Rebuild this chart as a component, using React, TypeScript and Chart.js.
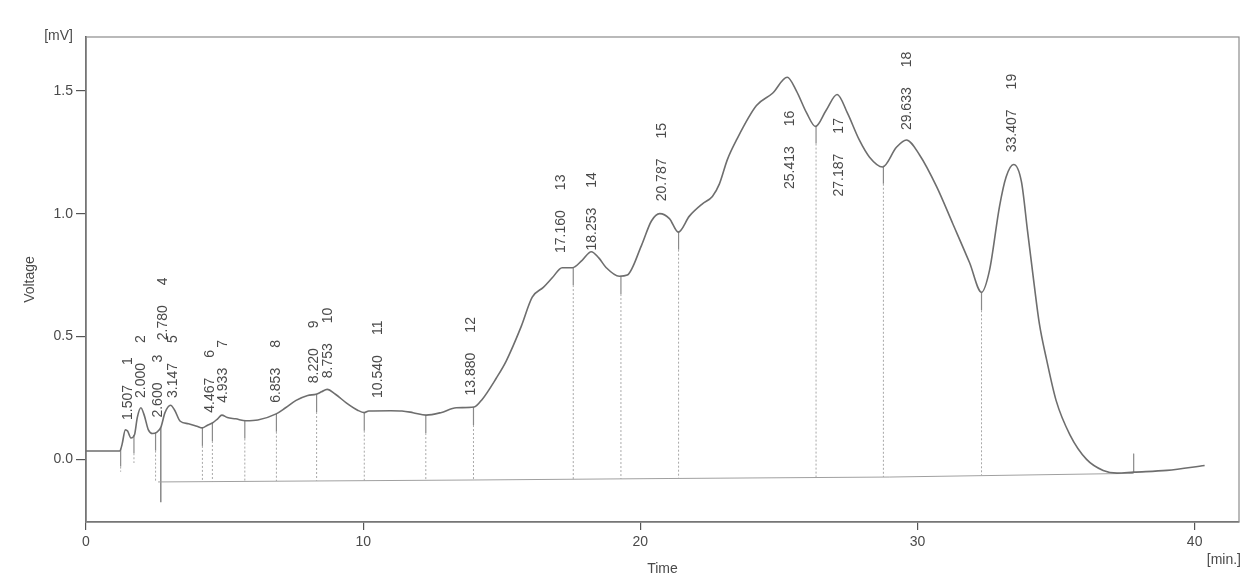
import React, { useEffect, useRef } from "react";
import { Chart, registerables } from "chart.js";

Chart.register(...registerables);

// ---- data ----
const traceTimes = [
  0, 1.22, 1.3, 1.42, 1.5, 1.62, 1.75, 1.85, 1.98, 2.1, 2.25, 2.4, 2.55, 2.7, 2.85, 3.05, 3.2, 3.4, 3.7, 4.0,
  4.2, 4.4, 4.56, 4.75, 4.9, 5.1, 5.4, 5.77, 6.2, 6.86, 7.2, 7.58, 8.0, 8.3, 8.5, 8.7, 9.0, 9.39, 9.8, 10.04,
  10.2, 11.0, 11.4, 11.8, 12.27, 12.8, 13.36, 14.0, 14.3, 14.8, 15.16, 15.7, 16.1, 16.5, 16.83, 17.18, 17.55,
  17.9, 18.23, 18.5, 18.77, 19.24, 19.53, 20.04, 20.4, 20.7, 21.05, 21.37, 21.77, 22.24, 22.6, 22.85, 23.14,
  23.47, 24.19, 24.77, 25.3, 25.63, 26.0, 26.32, 26.7, 27.1, 27.47, 27.9, 28.27, 28.74, 29.24, 29.6, 30.07,
  30.69, 31.27, 31.88, 32.31, 32.6, 32.96, 33.2, 33.47, 33.75, 33.97, 34.2, 34.4, 34.65, 35.0, 35.5, 36.1,
  36.7, 37.2, 37.8, 39.0, 40.36,
];
const traceValues = [
  0.034, 0.034, 0.06, 0.12, 0.115, 0.087, 0.1, 0.17, 0.21, 0.18, 0.12, 0.105, 0.11, 0.13, 0.19, 0.22, 0.2, 0.155, 0.145, 0.135,
  0.128, 0.14, 0.148, 0.165, 0.18, 0.17, 0.165, 0.157, 0.16, 0.185, 0.21, 0.24, 0.26, 0.265, 0.275, 0.285, 0.265, 0.23, 0.2, 0.19,
  0.197, 0.198, 0.197, 0.19, 0.18, 0.19, 0.21, 0.213, 0.245, 0.33, 0.4, 0.54, 0.66, 0.7, 0.74, 0.78, 0.78,
  0.81, 0.845, 0.82, 0.78, 0.745, 0.75, 0.87, 0.97, 1.0, 0.98, 0.925, 0.99, 1.04, 1.07, 1.12, 1.22,
  1.3, 1.44, 1.49, 1.555, 1.5, 1.41, 1.355, 1.42, 1.485, 1.41, 1.3, 1.23, 1.19, 1.27, 1.3, 1.24,
  1.11, 0.96, 0.8, 0.68, 0.77, 1.03, 1.15, 1.2, 1.13, 0.93, 0.72, 0.55, 0.41, 0.24, 0.1, 0.0,
  -0.045, -0.056, -0.052, -0.045, -0.025,
];

const baselineTimes = [2.6, 14, 21, 29, 37.8];
const baselineValues = [-0.092, -0.084, -0.078, -0.072, -0.057];

const boundaryTimes = [1.25, 1.73, 2.51, 2.7, 4.2, 4.56, 5.73, 6.87, 8.32, 10.04, 12.26, 13.98, 17.58, 19.3, 21.38, 26.34, 28.77, 32.31, 37.8];
const boundaryEnds = [-0.05, -0.015, -0.09, -0.175, -0.09, -0.09, -0.089, -0.088, -0.087, -0.086, -0.085, -0.084, -0.082, -0.08, -0.078, -0.074, -0.072, -0.064, 0.025];

const peakTimes = [1.507, 2.0, 2.6, 2.78, 3.147, 4.467, 4.933, 6.853, 8.22, 8.753, 10.54, 13.88, 17.16, 18.253, 20.787, 25.413, 27.187, 29.633, 33.407];
const peakNumbers = [1, 2, 3, 4, 5, 6, 7, 8, 9, 10, 11, 12, 13, 14, 15, 16, 17, 18, 19];
const peakLabelValues = [0.16, 0.25, 0.17, 0.485, 0.25, 0.19, 0.23, 0.23, 0.31, 0.33, 0.25, 0.26, 0.84, 0.85, 1.05, 1.1, 1.07, 1.34, 1.25];

const xTicks = [0, 10, 20, 30, 40];
const yTicks = [0, 0.5, 1.0, 1.5];

const FONT = "'Liberation Sans', Arial, Helvetica, sans-serif";

function interp(xs: number[], ys: number[], x: number): number {
  if (x <= xs[0]) return ys[0];
  for (let i = 1; i < xs.length; i++) {
    if (x <= xs[i]) {
      const f = (x - xs[i - 1]) / (xs[i] - xs[i - 1]);
      return ys[i - 1] + f * (ys[i] - ys[i - 1]);
    }
  }
  return ys[ys.length - 1];
}

const decorPlugin = {
  id: "decor",
  beforeDatasetsDraw(chart: any) {
    const { ctx, chartArea, scales } = chart;
    const xs = scales.x;
    const ys = scales.y;
    ctx.save();
    ctx.strokeStyle = "#8c8c8c";
    ctx.lineWidth = 1.2;
    ctx.strokeRect(chartArea.left, chartArea.top, chartArea.right - chartArea.left, chartArea.bottom - chartArea.top);
    for (let i = 0; i < boundaryTimes.length; i++) {
      const t = boundaryTimes[i];
      const px = xs.getPixelForValue(t);
      const yTop = ys.getPixelForValue(interp(traceTimes, traceValues, t));
      const yEnd = ys.getPixelForValue(boundaryEnds[i]);
      const dir = yEnd > yTop ? 1 : -1;
      const len = Math.abs(yEnd - yTop);
      const belowBase = boundaryEnds[i] < -0.15;
      const solid = belowBase ? len : Math.min(len, 18);
      ctx.strokeStyle = belowBase ? "#6a6a6a" : "#8a8a8a";
      ctx.lineWidth = 1.2;
      ctx.setLineDash([]);
      ctx.beginPath();
      ctx.moveTo(px, yTop);
      ctx.lineTo(px, yTop + dir * solid);
      ctx.stroke();
      if (len > solid) {
        ctx.strokeStyle = "#a8a8a8";
        ctx.lineWidth = 1;
        ctx.setLineDash([2, 2]);
        ctx.beginPath();
        ctx.moveTo(px, yTop + dir * solid);
        ctx.lineTo(px, yEnd);
        ctx.stroke();
      }
    }
    ctx.restore();
  },
  afterDatasetsDraw(chart: any) {
    const { ctx, scales } = chart;
    const xs = scales.x;
    const ys = scales.y;
    ctx.save();
    ctx.fillStyle = "#4a4a4a";
    ctx.font = `14px ${FONT}`;
    ctx.textAlign = "left";
    ctx.textBaseline = "middle";
    for (let i = 0; i < peakTimes.length; i++) {
      const px = xs.getPixelForValue(peakTimes[i]);
      const py = ys.getPixelForValue(peakLabelValues[i]);
      const tStr = peakTimes[i].toFixed(3);
      ctx.save();
      ctx.translate(px, py);
      ctx.rotate(-Math.PI / 2);
      ctx.fillText(tStr, 0, 0);
      const w = ctx.measureText(tStr).width;
      ctx.fillText(String(peakNumbers[i]), w + 20, 0);
      ctx.restore();
    }
    ctx.restore();
  },
  afterDraw(chart: any) {
    const { ctx, chartArea } = chart;
    ctx.save();
    ctx.fillStyle = "#4a4a4a";
    ctx.font = `14px ${FONT}`;
    ctx.textBaseline = "middle";
    ctx.textAlign = "right";
    ctx.fillText("[mV]", chartArea.left - 13, chartArea.top - 1);
    ctx.fillText("[min.]", chartArea.right + 2, chartArea.bottom + 38);
    ctx.restore();
  },
};

export default function App() {
  const canvasRef = useRef<HTMLCanvasElement | null>(null);

  useEffect(() => {
    if (!canvasRef.current) return;
    Chart.defaults.font.family = FONT;
    Chart.defaults.color = "#4a4a4a";
    const chart = new Chart(canvasRef.current, {
      type: "line",
      data: {
        datasets: [
          {
            label: "Voltage",
            data: traceTimes.map((t, i) => ({ x: t, y: traceValues[i] })),
            borderColor: "#6e6e6e",
            borderWidth: 1.6,
            pointRadius: 0,
            cubicInterpolationMode: "monotone",
            fill: false,
          },
          {
            label: "Baseline",
            data: baselineTimes.map((t, i) => ({ x: t, y: baselineValues[i] })),
            borderColor: "#a0a0a0",
            borderWidth: 1,
            pointRadius: 0,
            tension: 0,
            fill: false,
          },
        ],
      },
      options: {
        animation: false,
        responsive: true,
        maintainAspectRatio: false,
        events: [],
        layout: { padding: { top: 37, right: 11, left: 0, bottom: 0 } },
        plugins: {
          legend: { display: false },
          tooltip: { enabled: false },
        },
        scales: {
          x: {
            type: "linear",
            min: 0,
            max: 41.6,
            afterFit: (s: any) => {
              s.height = 56;
            },
            afterBuildTicks: (s: any) => {
              s.ticks = xTicks.map((v) => ({ value: v }));
            },
            grid: { display: true, drawOnChartArea: false, drawTicks: true, tickLength: 8, color: "#555", lineWidth: 1.2 },
            border: { display: true, color: "#555", width: 1.6 },
            ticks: { padding: 4, maxRotation: 0, font: { size: 14 }, color: "#4a4a4a", callback: (v: any) => String(v) },
            title: { display: true, text: "Time", font: { size: 14 }, color: "#4a4a4a", padding: { top: 0, bottom: 0 } },
          },
          y: {
            type: "linear",
            min: -0.255,
            max: 1.719,
            afterFit: (s: any) => {
              s.width = 86;
            },
            afterBuildTicks: (s: any) => {
              s.ticks = yTicks.map((v) => ({ value: v }));
            },
            grid: { display: true, drawOnChartArea: false, drawTicks: true, tickLength: 10, color: "#555", lineWidth: 1.2 },
            border: { display: true, color: "#555", width: 1.6 },
            ticks: { padding: 3, font: { size: 14 }, color: "#4a4a4a", callback: (v: any) => Number(v).toFixed(1) },
            title: { display: true, text: "Voltage", font: { size: 14 }, color: "#4a4a4a", padding: { top: 22, bottom: 0 } },
          },
        },
      },
      plugins: [decorPlugin],
    });
    return () => chart.destroy();
  }, []);

  return (
    <div style={{ position: "fixed", left: 0, top: 0, width: 1250, height: 578, background: "#ffffff" }}>
      <canvas ref={canvasRef} />
    </div>
  );
}
